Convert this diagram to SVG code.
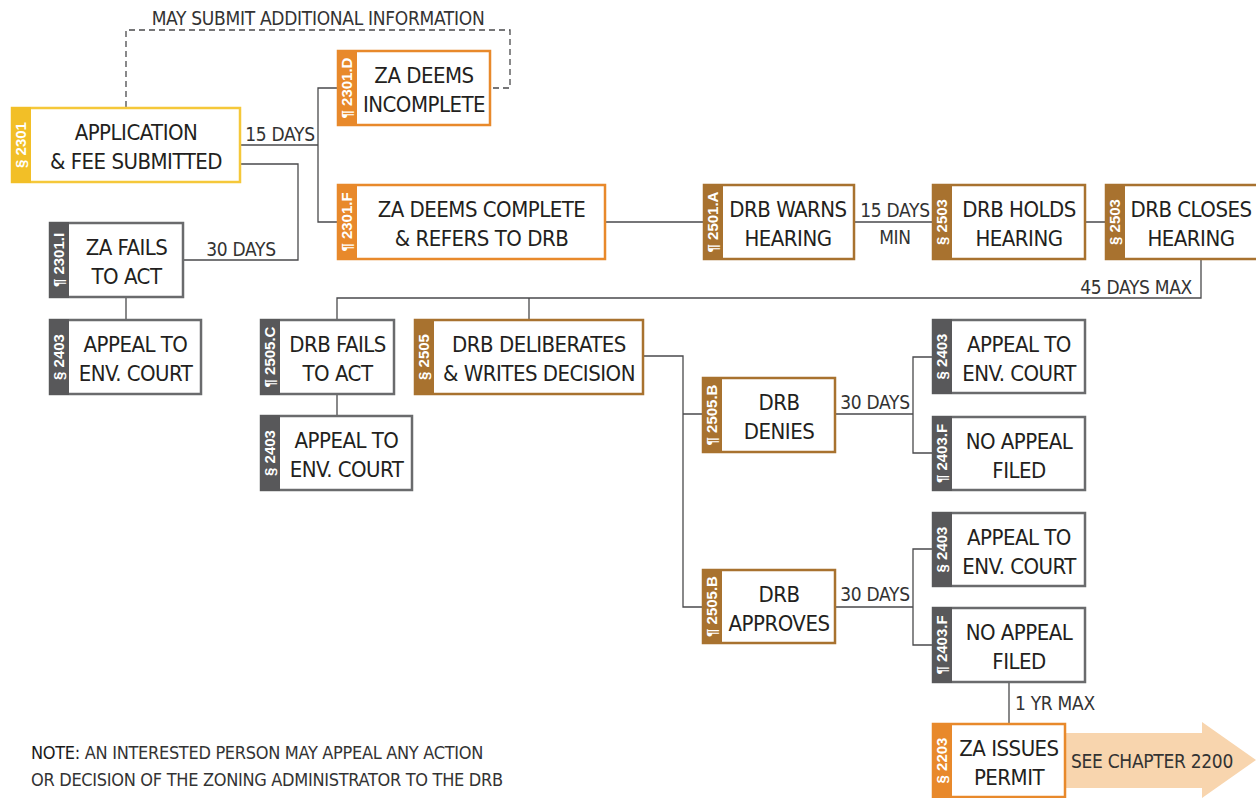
<svg xmlns="http://www.w3.org/2000/svg" width="1256" height="798" viewBox="0 0 1256 798">
<style>
.box{fill:#fff;stroke-width:2.5}
.tabt{font-family:"Liberation Sans",Arial,sans-serif;font-weight:bold;font-size:15px;fill:#fff;text-anchor:middle}
.lbl{font-family:"DejaVu Sans Condensed","Liberation Sans Narrow",sans-serif;font-size:22px;letter-spacing:-0.5px;fill:#231F20;text-anchor:middle}
.ann{font-family:"DejaVu Sans Condensed","Liberation Sans Narrow",sans-serif;font-size:19px;letter-spacing:-0.3px;fill:#333}
.note{font-size:18px}
.yl .box{stroke:#F5C83A}.yl .tab{fill:#F2BF27}
.or .box{stroke:#E8892B}.or .tab{fill:#E8892B}
.br .box{stroke:#A8722F}.br .tab{fill:#A8722F}
.gy .box{stroke:#6A6B6D}.gy .tab{fill:#58585A}
.con{fill:none;stroke:#4A4A4C;stroke-width:1.3}
</style>
<rect width="1256" height="798" fill="#fff"/>
<g id="connectors">
<path class="con" stroke-dasharray="6,4" d="M126,107 V30 H510 V88 H492"/>
<path class="con" d="M241,145 H318 M337,88 H318 V222 H337 M241,164 H298 V260 H184 M126,298 V319"/>
<path class="con" d="M606,222 H703 M855,222 H932 M1086,222 H1105"/>
<path class="con" d="M1201,260 V298 H337 V319 M529,298 V319 M337,395 V415"/>
<path class="con" d="M644,356 H683 V607 H702 M683,414 H702"/>
<path class="con" d="M836,414 H913 M932,357 H913 V453 H932 M836,607 H913 M932,549 H913 V645 H932 M1009,683 V723"/>
<path d="M1060,733 H1202 V722 L1256,760 L1202,798 V788 H1060 Z" fill="#F8D5AE"/>
</g>
<g id="labels">
<text class="ann" x="318" y="25" text-anchor="middle">MAY SUBMIT ADDITIONAL INFORMATION</text>
<text class="ann" x="280" y="141" text-anchor="middle">15 DAYS</text>
<text class="ann" x="241" y="256" text-anchor="middle">30 DAYS</text>
<text class="ann" x="895" y="217" text-anchor="middle">15 DAYS</text>
<text class="ann" x="895" y="244" text-anchor="middle">MIN</text>
<text class="ann" x="1192" y="294" text-anchor="end">45 DAYS MAX</text>
<text class="ann" x="875" y="409" text-anchor="middle">30 DAYS</text>
<text class="ann" x="875" y="601" text-anchor="middle">30 DAYS</text>
<text class="ann" x="1015" y="710">1 YR MAX</text>
<text class="ann" x="1152" y="768" text-anchor="middle">SEE CHAPTER 2200</text>
<text class="ann note" x="31" y="759"><tspan fill="#1A1A1A">NOTE:</tspan> AN INTERESTED PERSON MAY APPEAL ANY ACTION</text>
<text class="ann note" x="31" y="786">OR DECISION OF THE ZONING ADMINISTRATOR TO THE DRB</text>
</g>
<g id="n-app" class="yl">
<rect class="box" x="12" y="108" width="228" height="74"/><rect class="tab" x="11" y="107" width="20" height="76"/>
<text class="tabt" transform="translate(26,145) rotate(-90)">§ 2301</text>
<text class="lbl" x="136" y="140">APPLICATION</text><text class="lbl" x="136" y="169">&amp; FEE SUBMITTED</text>
</g>
<g id="n-incomplete" class="or">
<rect class="box" x="338" y="51" width="152" height="74"/><rect class="tab" x="337" y="50" width="20" height="76"/>
<text class="tabt" transform="translate(352,88) rotate(-90)">¶ 2301.D</text>
<text class="lbl" x="424" y="83">ZA DEEMS</text><text class="lbl" x="424" y="112">INCOMPLETE</text>
</g>
<g id="n-complete" class="or">
<rect class="box" x="338" y="185" width="267" height="74"/><rect class="tab" x="337" y="184" width="20" height="76"/>
<text class="tabt" transform="translate(352,222) rotate(-90)">¶ 2301.F</text>
<text class="lbl" x="481.5" y="217">ZA DEEMS COMPLETE</text><text class="lbl" x="481.5" y="246">&amp; REFERS TO DRB</text>
</g>
<g id="n-zafails" class="gy">
<rect class="box" x="50" y="223" width="133" height="74"/><rect class="tab" x="49" y="222" width="20" height="76"/>
<text class="tabt" transform="translate(64,260) rotate(-90)">¶ 2301.I</text>
<text class="lbl" x="126.5" y="255">ZA FAILS</text><text class="lbl" x="126.5" y="284">TO ACT</text>
</g>
<g id="n-appeal1" class="gy">
<rect class="box" x="50" y="320" width="151" height="74"/><rect class="tab" x="49" y="319" width="20" height="76"/>
<text class="tabt" transform="translate(64,357) rotate(-90)">§ 2403</text>
<text class="lbl" x="135.5" y="352">APPEAL TO</text><text class="lbl" x="135.5" y="381">ENV. COURT</text>
</g>
<g id="n-warns" class="br">
<rect class="box" x="704" y="185" width="150" height="74"/><rect class="tab" x="703" y="184" width="20" height="76"/>
<text class="tabt" transform="translate(718,222) rotate(-90)">¶ 2501.A</text>
<text class="lbl" x="788" y="217">DRB WARNS</text><text class="lbl" x="788" y="246">HEARING</text>
</g>
<g id="n-holds" class="br">
<rect class="box" x="933" y="185" width="152" height="74"/><rect class="tab" x="932" y="184" width="20" height="76"/>
<text class="tabt" transform="translate(947,222) rotate(-90)">§ 2503</text>
<text class="lbl" x="1019" y="217">DRB HOLDS</text><text class="lbl" x="1019" y="246">HEARING</text>
</g>
<g id="n-closes" class="br">
<rect class="box" x="1106" y="185" width="152" height="74"/><rect class="tab" x="1105" y="184" width="20" height="76"/>
<text class="tabt" transform="translate(1120,222) rotate(-90)">§ 2503</text>
<text class="lbl" x="1191" y="217">DRB CLOSES</text><text class="lbl" x="1191" y="246">HEARING</text>
</g>
<g id="n-drbfails" class="gy">
<rect class="box" x="261" y="320" width="133" height="74"/><rect class="tab" x="260" y="319" width="20" height="76"/>
<text class="tabt" transform="translate(275,357) rotate(-90)">¶ 2505.C</text>
<text class="lbl" x="337.5" y="352">DRB FAILS</text><text class="lbl" x="337.5" y="381">TO ACT</text>
</g>
<g id="n-appeal2" class="gy">
<rect class="box" x="261" y="416" width="151" height="74"/><rect class="tab" x="260" y="415" width="20" height="76"/>
<text class="tabt" transform="translate(275,453) rotate(-90)">§ 2403</text>
<text class="lbl" x="346.5" y="448">APPEAL TO</text><text class="lbl" x="346.5" y="477">ENV. COURT</text>
</g>
<g id="n-deliberates" class="br">
<rect class="box" x="415" y="320" width="228" height="74"/><rect class="tab" x="414" y="319" width="20" height="76"/>
<text class="tabt" transform="translate(429,357) rotate(-90)">§ 2505</text>
<text class="lbl" x="539" y="352">DRB DELIBERATES</text><text class="lbl" x="539" y="381">&amp; WRITES DECISION</text>
</g>
<g id="n-denies" class="br">
<rect class="box" x="703" y="378" width="132" height="74"/><rect class="tab" x="702" y="377" width="20" height="76"/>
<text class="tabt" transform="translate(717,415) rotate(-90)">¶ 2505.B</text>
<text class="lbl" x="779" y="410">DRB</text><text class="lbl" x="779" y="439">DENIES</text>
</g>
<g id="n-appeal3" class="gy">
<rect class="box" x="933" y="320" width="152" height="73"/><rect class="tab" x="932" y="319" width="20" height="75"/>
<text class="tabt" transform="translate(947,356.5) rotate(-90)">§ 2403</text>
<text class="lbl" x="1019" y="351.5">APPEAL TO</text><text class="lbl" x="1019" y="380.5">ENV. COURT</text>
</g>
<g id="n-noappeal1" class="gy">
<rect class="box" x="933" y="417" width="152" height="73"/><rect class="tab" x="932" y="416" width="20" height="75"/>
<text class="tabt" transform="translate(947,453.5) rotate(-90)">¶ 2403.F</text>
<text class="lbl" x="1019" y="448.5">NO APPEAL</text><text class="lbl" x="1019" y="477.5">FILED</text>
</g>
<g id="n-approves" class="br">
<rect class="box" x="703" y="570" width="132" height="73"/><rect class="tab" x="702" y="569" width="20" height="75"/>
<text class="tabt" transform="translate(717,606.5) rotate(-90)">¶ 2505.B</text>
<text class="lbl" x="779" y="601.5">DRB</text><text class="lbl" x="779" y="630.5">APPROVES</text>
</g>
<g id="n-appeal4" class="gy">
<rect class="box" x="933" y="513" width="152" height="73"/><rect class="tab" x="932" y="512" width="20" height="75"/>
<text class="tabt" transform="translate(947,549.5) rotate(-90)">§ 2403</text>
<text class="lbl" x="1019" y="544.5">APPEAL TO</text><text class="lbl" x="1019" y="573.5">ENV. COURT</text>
</g>
<g id="n-noappeal2" class="gy">
<rect class="box" x="933" y="608" width="152" height="74"/><rect class="tab" x="932" y="607" width="20" height="76"/>
<text class="tabt" transform="translate(947,645) rotate(-90)">¶ 2403.F</text>
<text class="lbl" x="1019" y="640">NO APPEAL</text><text class="lbl" x="1019" y="669">FILED</text>
</g>
<g id="n-issues" class="or">
<rect class="box" x="933" y="724" width="132" height="73"/><rect class="tab" x="932" y="723" width="20" height="75"/>
<text class="tabt" transform="translate(947,760.5) rotate(-90)">§ 2203</text>
<text class="lbl" x="1009" y="755.5">ZA ISSUES</text><text class="lbl" x="1009" y="784.5">PERMIT</text>
</g>
</svg>
